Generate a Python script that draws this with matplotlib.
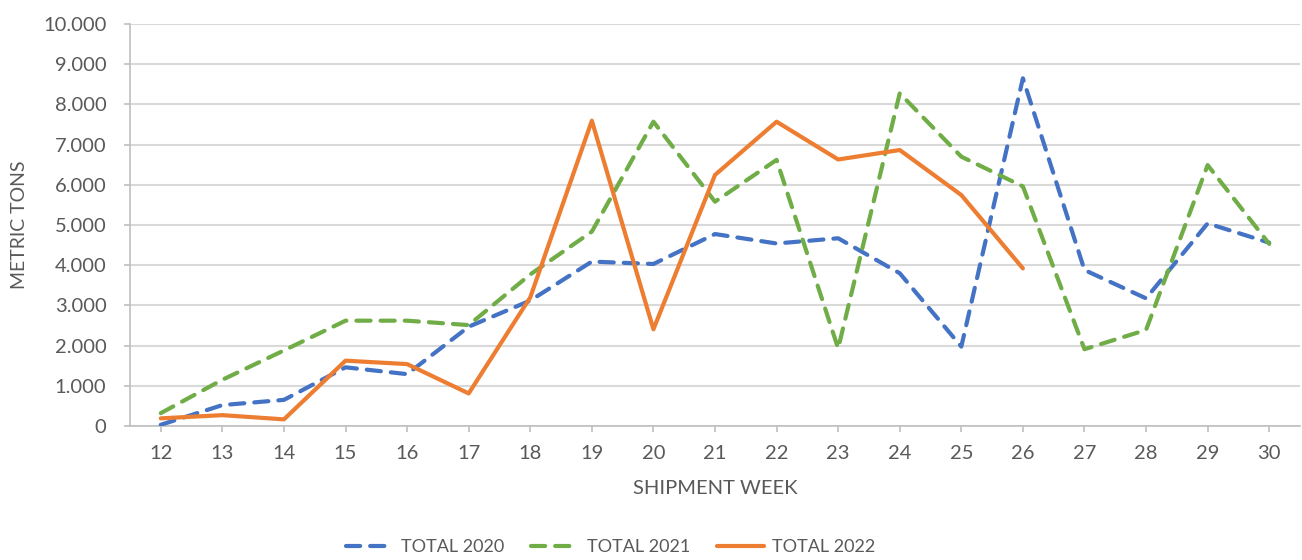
import matplotlib
matplotlib.use("Agg")
import matplotlib.pyplot as plt
from matplotlib.ticker import FuncFormatter, MultipleLocator

weeks = [12, 13, 14, 15, 16, 17, 18, 19, 20, 21, 22, 23, 24, 25, 26, 27, 28, 29, 30]
total_2020 = [30, 520, 650, 1460, 1290, 2470, 3120, 4090, 4030, 4775, 4540, 4670, 3800, 1975, 8650, 3880, 3175, 5040, 4560]
total_2021 = [320, 1150, 1880, 2620, 2620, 2510, 3770, 4835, 7570, 5580, 6620, 1930, 8275, 6700, 5960, 1910, 2390, 6490, 4530]
weeks_2022 = [12, 13, 14, 15, 16, 17, 18, 19, 20, 21, 22, 23, 24, 25, 26]
total_2022 = [190, 270, 165, 1625, 1540, 810, 3200, 7595, 2405, 6245, 7570, 6630, 6865, 5745, 3920]

plt.rcParams['font.family'] = ['Lato', 'DejaVu Sans']
txt = '#595959'

fig = plt.figure(figsize=(13.02, 5.6), dpi=100)
ax = fig.add_axes([130/1302, 1-426/560, (1300-130)/1302, (426-24)/560])

lw = 3
ax.plot(weeks, total_2020, color='#4472C4', lw=lw, dashes=(3.4, 2.4), dash_capstyle='round',
        solid_joinstyle='round', label='TOTAL 2020', zorder=3)
ax.plot(weeks, total_2021, color='#70AD47', lw=lw, dashes=(3.4, 2.4), dash_capstyle='round',
        solid_joinstyle='round', label='TOTAL 2021', zorder=3)
ax.plot(weeks_2022, total_2022, color='#ED7D31', lw=lw, solid_capstyle='round',
        solid_joinstyle='round', label='TOTAL 2022', zorder=4)

ax.set_xlim(11.5, 30.5)
ax.set_ylim(0, 10000)
ax.set_xticks(weeks)
ax.set_xticklabels([str(w) for w in weeks])
ax.yaxis.set_major_locator(MultipleLocator(1000))
ax.yaxis.set_major_formatter(FuncFormatter(lambda v, p: f"{int(v):,}".replace(",", ".")))
ax.grid(axis='y', color='#d9d9d9', lw=1.5, zorder=0)
ax.set_axisbelow(True)
for s in ['top', 'right']:
    ax.spines[s].set_visible(False)
for s in ['left', 'bottom']:
    ax.spines[s].set_color('#bfbfbf')
    ax.spines[s].set_linewidth(1.2)
ax.tick_params(axis='both', colors='#bfbfbf', labelcolor=txt, labelsize=14.5, length=4, width=1.2)
ax.tick_params(axis='x', pad=10)
ax.tick_params(axis='y', pad=13)

ax.set_xlabel('SHIPMENT WEEK', fontsize=14.5, color=txt, labelpad=13)
ax.set_ylabel('METRIC TONS', fontsize=14, color=txt, labelpad=11)

fig.legend(loc='center', bbox_to_anchor=(0.469, 1-547/560), ncol=3, frameon=False,
           fontsize=13, labelcolor=txt, handlelength=2.6, columnspacing=1.5, handletextpad=0.45)

fig.savefig('out.png', dpi=100)
